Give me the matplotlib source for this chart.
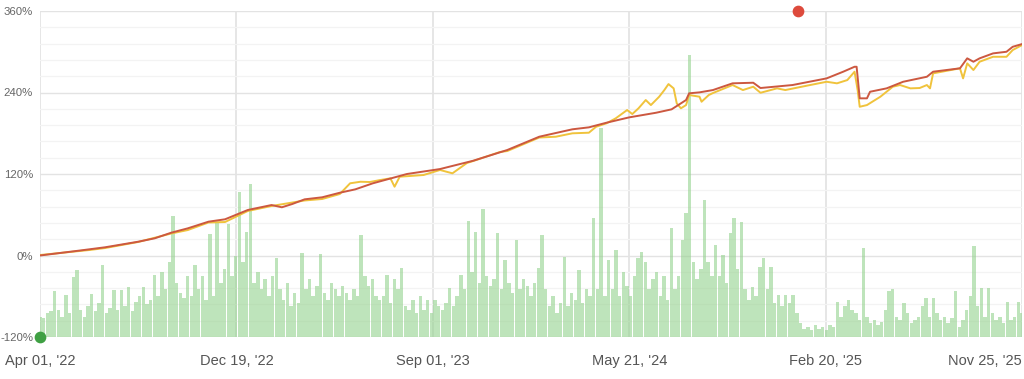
import numpy as np
from matplotlib import pyplot as plt
from matplotlib.ticker import MultipleLocator, FuncFormatter

plt.rcParams['font.family'] = ['Liberation Sans', 'DejaVu Sans']

# x axis is in trading sessions (ordinal), 0 .. 950
n_sessions = 950
tick_labels = ["Apr 01, '22", "Dec 19, '22", "Sep 01, '23", "May 21, '24", "Feb 20, '25", "Nov 25, '25"]

# strategy line (red)
red_x = [0, 39, 63, 95, 111, 127, 143, 163, 179, 201, 224, 234, 244, 256, 273, 290, 305, 322,
         355, 387, 419, 452, 483, 515, 531, 548, 570, 596, 611, 625, 628, 638, 651, 670, 690,
         697, 728, 761, 777, 788, 790, 793, 800, 803, 819, 835, 858, 864, 890, 897, 903, 909,
         922, 935, 941, 950]
red_y = [0, 7.4, 12.1, 20.3, 25.3, 33.6, 40.0, 49.8, 53.3, 67.0, 74.3, 71.0, 75.8, 82.7, 85.7,
         92.4, 97.4, 106.3, 120.0, 127.3, 139.5, 155.3, 174.9, 185.8, 188.7, 195.5, 203.4,
         210.2, 215.2, 228.9, 238.8, 240.2, 243.6, 253.5, 254.4, 246.6, 251.0, 260.8, 270.6,
         277.9, 277.9, 231.4, 231.4, 241.1, 246.1, 255.8, 263.2, 270.6, 275.6, 290.3, 285.3,
         290.3, 297.6, 300.0, 307.3, 311.3]

# benchmark line (yellow)
yel_x = [0, 48, 63, 95, 127, 143, 163, 179, 201, 224, 256, 273, 290, 300, 310, 319, 329, 339,
         343, 348, 371, 387, 399, 413, 419, 445, 452, 483, 499, 515, 531, 538, 548, 557, 568,
         573, 579, 586, 591, 599, 604, 608, 613, 616, 620, 625, 628, 638, 640, 647, 651, 670,
         680, 690, 697, 713, 721, 745, 761, 771, 781, 788, 791, 793, 800, 813, 825, 832, 842,
         851, 858, 861, 864, 890, 893, 897, 903, 909, 922, 935, 941, 950]
yel_y = [0.7, 8.1, 11.0, 19.9, 32.4, 37.5, 48.6, 49.3, 65.5, 72.9, 81.0, 83.2, 90.5, 106.3,
         108.6, 108.2, 111.1, 113.6, 101.3, 116.0, 118.5, 125.9, 121.0, 136.2, 139.1, 152.4,
         153.8, 173.7, 174.9, 179.9, 180.8, 189.6, 194.6, 202.0, 214.2, 208.3, 216.7, 228.9,
         221.5, 233.8, 243.6, 252.4, 246.1, 224.0, 216.7, 221.5, 236.3, 233.8, 226.4, 236.3,
         239.2, 251.0, 243.6, 248.5, 239.6, 246.1, 243.6, 251.0, 255.8, 253.5, 258.3, 270.6,
         243.6, 219.0, 221.5, 233.8, 248.5, 251.0, 246.1, 246.6, 251.0, 246.1, 268.2, 275.6,
         260.8, 282.9, 273.1, 285.3, 292.6, 292.6, 302.5, 309.8]

# green bars, height above the -120% floor
bar_vals = [
    30, 28, 35, 38, 67, 40, 30, 62, 35, 88, 99, 40, 30, 45, 64, 38, 50, 106, 35, 42, 69, 40, 69,
    45, 74, 38, 52, 60, 74, 48, 55, 91, 60, 96, 70, 110, 178, 80, 65, 58, 90, 60, 106, 70, 90, 55,
    152, 60, 170, 80, 100, 167, 90, 120, 214, 110, 155, 225, 80, 95, 70, 85, 60, 90, 116, 70, 55,
    80, 45, 65, 50, 123, 70, 85, 60, 75, 122, 65, 55, 80, 70, 60, 75, 65, 55, 70, 60, 150, 90, 75,
    85, 60,
    55, 60, 91, 50, 85, 70, 101, 45, 40, 55, 35, 60, 40, 55, 35, 55, 45, 40, 50, 72, 45, 60, 91,
    70, 171, 95, 155, 80, 188, 90, 75, 85, 153, 70, 113, 80, 65, 143, 70, 85, 75, 60, 80, 101, 150,
    70,
    45, 60, 35, 50, 118, 45, 65, 55, 99, 50, 70, 60, 175, 70, 307, 60, 113, 70, 128, 60, 95, 75,
    60, 90, 116, 125, 110, 70, 85, 95, 60, 90, 55, 160, 70, 90, 143, 182, 415, 110, 85, 100, 202,
    110, 90,
    135, 90, 121, 80, 153, 175, 100, 169, 70, 55, 74, 60, 103, 116, 70, 103, 50, 62, 45, 62, 50,
    62, 35, 20, 12, 15, 10, 18, 12, 15, 10, 18, 14, 52, 30, 45, 55, 40, 35, 25, 131, 30, 20, 25,
    18, 22,
    40, 67, 70, 30, 25, 50, 35, 20, 25, 30, 45, 57, 30, 57, 35, 25, 30, 20, 28, 67, 15, 25, 40,
    60, 134, 45, 72, 30, 72, 35, 25, 30, 20, 52, 25, 30, 52, 35,
]

max_point = (733, 360)
min_point = (0, -120)

fig = plt.figure(figsize=(10.24, 3.79), dpi=100)
ax = fig.add_axes([40 / 1024, 1 - 337 / 379, 982 / 1024, 326 / 379])

bar_x = np.linspace(0, n_sessions, len(bar_vals))
ax.bar(bar_x, bar_vals, bottom=-120, width=3.3, color='#94d28e', alpha=0.6,
       linewidth=0, zorder=2)

ax.plot(yel_x, yel_y, color='#f0c33c', lw=1.4, zorder=3)
ax.plot(red_x, red_y, color='#cc5840', lw=1.4, zorder=4)

ax.scatter([max_point[0]], [max_point[1]], s=55, color='#dd4a3c', zorder=6, clip_on=False)
ax.scatter([min_point[0]], [min_point[1]], s=55, color='#3fa043', zorder=6, clip_on=False)

ax.set_xlim(0, n_sessions)
ax.set_ylim(-120, 360)
ax.yaxis.set_major_locator(MultipleLocator(120))
ax.yaxis.set_minor_locator(MultipleLocator(24))
ax.yaxis.set_major_formatter(FuncFormatter(lambda v, p: f"{v:.0f}%"))
ax.set_xticks(np.linspace(0, n_sessions, len(tick_labels)))
ax.set_xticklabels(tick_labels)
labs = ax.get_xticklabels()
labs[-1].set_ha('right')

ax.grid(axis='y', which='major', color='#e3e3e3', lw=1.0, zorder=0)
ax.grid(axis='y', which='minor', color='#f3f3f3', lw=0.9, zorder=0)
ax.grid(axis='x', which='major', color='#e6e6e6', lw=1.4, zorder=0)
ax.set_axisbelow(True)

for s in ax.spines.values():
    s.set_visible(False)
ax.tick_params(axis='both', which='both', length=0)
ax.tick_params(axis='y', labelsize=8.2, labelcolor='#666666', pad=5)
ax.tick_params(axis='x', labelsize=10.5, labelcolor='#555555', pad=12)

fig.savefig('out.png', dpi=100)
